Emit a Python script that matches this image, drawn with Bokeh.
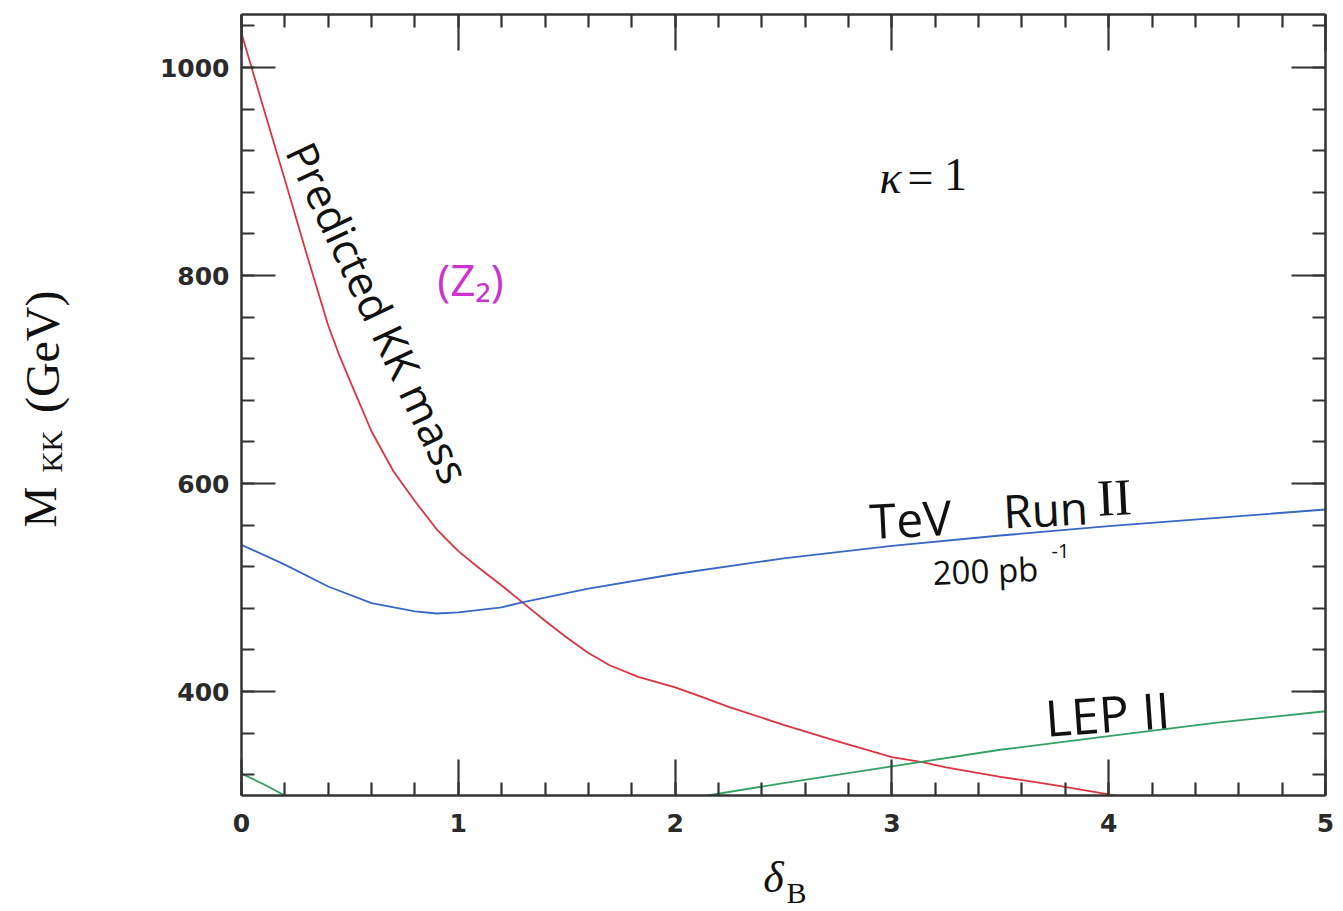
import numpy as np
from bokeh.plotting import figure
from bokeh.models import Range1d, FixedTicker, LinearAxis, Label
from bokeh.layouts import row, column
from bokeh.embed import file_html
from bokeh.resources import INLINE

# ---- data ----
red_x = [0, 0.1, 0.2, 0.3, 0.4, 0.45, 0.5, 0.6, 0.7, 0.8, 0.9, 1.0, 1.1, 1.2, 1.3, 1.4, 1.5, 1.6,
         1.7, 1.83, 2.0, 2.12, 2.25, 2.5, 2.75, 3.0, 3.14, 3.25, 3.5, 3.75, 4.0, 4.08]
red_y = [1033, 962, 892, 821, 752, 724, 699, 650, 612, 583, 556, 535, 518, 502, 485, 468, 452, 437,
         425, 414, 404, 395, 385, 368, 352, 337, 332, 327, 318, 310, 301, 298]

blue_x = [0, 0.2, 0.4, 0.6, 0.8, 0.9, 1.0, 1.2, 1.3, 1.6, 2.0, 2.5, 3.0, 3.5, 4.0, 4.5, 5.0]
blue_y = [541, 522, 501, 485, 477, 475, 476, 481, 486, 499, 513, 528, 540, 550, 559, 567, 575]

green_a_x = [0, 0.1, 0.2]
green_a_y = [321, 311, 300]
green_b_x = [2.15, 2.5, 3.0, 3.5, 4.0, 4.5, 5.0]
green_b_y = [300, 312, 328, 344, 357, 370, 381]

x_major = [0, 1, 2, 3, 4, 5]
x_minor = [round(i * 0.2, 1) for i in range(0, 26)]
y_major = [400, 600, 800, 1000]
y_minor = list(range(320, 1041, 40))

LEFT_W = 120
MAIN_W = 1215
MAIN_H = 845
BOT_H = 64
TOTAL_H = MAIN_H + BOT_H

# ---------------- main plot ----------------
p = figure(width=MAIN_W, height=MAIN_H, output_backend="svg", toolbar_location=None,
           x_range=Range1d(0, 5), y_range=Range1d(300, 1051),
           min_border_left=121, min_border_right=10, min_border_top=14, min_border_bottom=50)
p.outline_line_color = None
p.grid.visible = False

AX = "#333333"
def style_axis(ax, ticks, minor, show_labels, major_len, minor_len=13):
    ax.ticker = FixedTicker(ticks=ticks, minor_ticks=minor)
    ax.axis_line_color = AX
    ax.axis_line_width = 2.5
    ax.major_tick_line_color = AX
    ax.minor_tick_line_color = AX
    ax.major_tick_line_width = 2.2
    ax.minor_tick_line_width = 2.2
    ax.major_tick_in = major_len
    ax.major_tick_out = 0
    ax.minor_tick_in = minor_len
    ax.minor_tick_out = 0
    if show_labels:
        ax.major_label_text_font = "DejaVu Sans"
        ax.major_label_text_font_size = "25px"
        ax.major_label_text_font_style = "bold"
        ax.major_label_text_color = "#2a2a2a"
    else:
        ax.major_label_overrides = {t: "" for t in ticks}
        ax.major_label_text_font_size = "1px"
        ax.major_label_standoff = 0

style_axis(p.xaxis[0], x_major, x_minor, True, 36)
style_axis(p.yaxis[0], y_major, y_minor, True, 34)
p.xaxis[0].major_label_standoff = 18
p.yaxis[0].major_label_standoff = 12

top = LinearAxis()
style_axis(top, x_major, x_minor, False, 36)
p.add_layout(top, "above")
right = LinearAxis()
style_axis(right, y_major, y_minor, False, 34)
p.add_layout(right, "right")

p.line(red_x, red_y, line_color="#dc3343", line_width=1.8)
p.line(blue_x, blue_y, line_color="#3a66c4", line_width=1.8)
p.line(green_a_x, green_a_y, line_color="#35a065", line_width=1.8)
p.line(green_b_x, green_b_y, line_color="#35a065", line_width=1.8)

def px2x(px):
    return (px - 241) / 216.8
def py2y(py):
    return 1000 - (py - 67) / 1.04

def lab(fig, text, x, y, size, font="Liberation Serif", color="#111111", angle=0.0,
        align="center", baseline="middle", style="normal"):
    fig.add_layout(Label(x=x, y=y, text=text, text_font=font,
                         text_font_size=f"{size}px", text_color=color, angle=angle,
                         text_align=align, text_baseline=baseline, text_font_style=style))

def plab(text, px, py, size, **kw):
    lab(p, text, px2x(px), py2y(py), size, **kw)

# in-plot annotations
plab("κ", 890, 177, 46, style="italic")
plab("=", 920, 177, 46)
plab("1", 955, 174, 46)
plab("Predicted KK mass", 378, 312, 43, font="Open Sans", angle=-1.13)
plab("(Z₂)", 470, 278, 44, font="Open Sans", color="#cc33cc")
plab("TeV", 910, 518, 48, font="Open Sans", angle=0.05)
plab("Run", 1045, 508, 46, font="Open Sans", angle=0.05)
plab("II", 1114, 497, 52, font="Liberation Serif", angle=0.05)
plab("200 pb", 985, 570, 33, font="Open Sans", angle=0.04)
plab("-1", 1060, 550, 20, font="Open Sans")
plab("LEP II", 1107, 713, 50, font="Open Sans", angle=0.07)

# ---------------- left strip: y title ----------------
pl = figure(width=LEFT_W, height=TOTAL_H, output_backend="svg", toolbar_location=None,
            x_range=Range1d(0, LEFT_W), y_range=Range1d(-TOTAL_H, 0),
            x_axis_type=None, y_axis_type=None, min_border=0)
pl.outline_line_color = None
pl.grid.visible = False
lab(pl, "M", 40, -527, 46, angle=np.pi / 2, align="left")
lab(pl, "KK", 51, -472, 29, angle=np.pi / 2, align="left")
lab(pl, "(GeV)", 42, -290, 48, angle=np.pi / 2, align="right")

# ---------------- bottom strip: x title (frame aligned with main frame) ----------------
pb = figure(width=MAIN_W, height=BOT_H, output_backend="svg", toolbar_location=None,
            x_range=p.x_range, y_range=Range1d(-TOTAL_H, -MAIN_H),
            x_axis_type=None, y_axis_type=None, min_border=0)
pb.outline_line_color = None
pb.grid.visible = False
lab(pb, "δ", px2x(773), -877, 44, style="italic")
lab(pb, "B", px2x(796), -892, 30)

layout = row(pl, column(p, pb))
open("out.html", "w").write(file_html(layout, INLINE))
